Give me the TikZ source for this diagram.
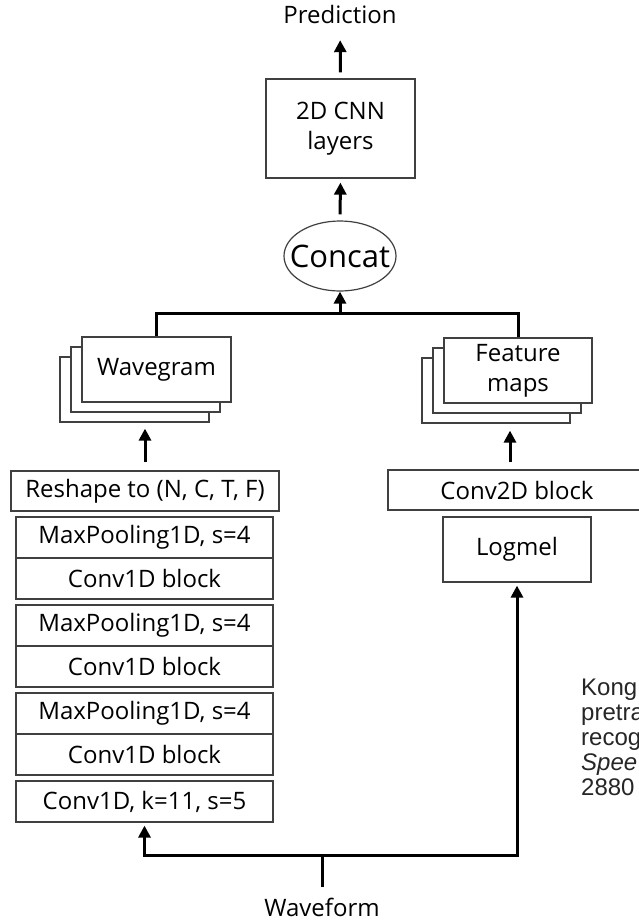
\documentclass[tikz,border=0pt]{standalone}
\usepackage{fontspec}
\setmainfont{Open Sans}
\newfontfamily\citefont{Liberation Sans}
\usetikzlibrary{arrows.meta,shapes.geometric,shadows}
\tikzset{
  lbl/.style={font=\fontsize{24}{30}\selectfont, inner sep=0pt, text height=17pt, text depth=0pt},
  blk/.style={draw=black!75, line width=1.2pt, fill=white, inner sep=0pt, align=center, font=\fontsize{24}{30}\selectfont},
  stackbox/.style={blk, double copy shadow={shadow xshift=-11pt, shadow yshift=-10pt}},
  cellbox/.style={blk, minimum width=257pt, minimum height=41pt},
  conn/.style={line width=3pt, black},
  arr/.style={conn, -{Triangle[length=12pt,width=12pt]}},
  citetext/.style={anchor=base west, inner sep=0pt, font=\citefont\fontsize{24}{28}\selectfont, text=black!85},
}
\begin{document}
\begin{tikzpicture}[x=1pt,y=-1pt]
\fill[white] (0,0) rectangle (639,921);
\useasboundingbox (0,0) rectangle (639,921);

% top part
\node[lbl] (pred) at (340,15) {Prediction};
\node[blk, minimum width=149pt, minimum height=99pt] (cnn) at (340.5,128.5) {2D CNN\\layers};
\node[draw=black!75, line width=1.2pt, ellipse, minimum width=112pt, minimum height=70pt, inner sep=0pt] (concat) at (340,256) {\makebox[0pt]{\fontsize{31}{36}\selectfont Concat}};

% stacked feature boxes
\node[stackbox, minimum width=149pt, minimum height=65pt] (wave) at (156.5,369.5) {Wavegram};
\node[stackbox, minimum width=148pt, minimum height=65pt] (feat) at (518,370.5) {Feature\\maps};

% left branch
\node[blk, minimum width=268pt, minimum height=40pt] (reshape) at (145,491) {Reshape to (N, C, T, F)};
\node[cellbox] (mp1) at (144.5,537.5) {MaxPooling1D, s=4};
\node[cellbox] (cb1) at (144.5,578.5) {Conv1D block};
\node[cellbox] (mp2) at (144.5,625.5) {MaxPooling1D, s=4};
\node[cellbox] (cb2) at (144.5,666.5) {Conv1D block};
\node[cellbox] (mp3) at (144.5,713.5) {MaxPooling1D, s=4};
\node[cellbox] (cb3) at (144.5,754.5) {Conv1D block};
\node[cellbox] (k11) at (144.5,801.5) {Conv1D, k=11, s=5};

% right branch
\node[blk, minimum width=258pt, minimum height=40pt] (conv2d) at (517,490) {Conv2D block};
\node[blk, minimum width=148pt, minimum height=65pt] (logmel) at (517,549.5) {Logmel};

% input
\node[lbl] (wavef) at (322,908) {Waveform};

% connectors
\draw[arr, shorten <=6pt, shorten >=16.5pt] (cnn.north) -- (pred.south);
\draw[arr, shorten <=6pt, shorten >=4pt] (concat.north) -- (cnn.south);
\coordinate (join) at (340,313);
\draw[conn] (wave.north) |- (join) -| (feat.north);
\draw[arr] (join) -- (concat.south);
\draw[arr, shorten <=8pt, shorten >=26pt] (reshape.north) -- (reshape.north |- wave.south);
\draw[arr, shorten <=7pt, shorten >=27pt] ([xshift=-7pt]conv2d.north) -- ([xshift=-7pt]conv2d.north |- feat.south);
\coordinate (split) at (322,855);
\draw[conn, shorten <=12pt] (wavef.north) -- (split);
\draw[arr, shorten >=3pt] (split) -| (k11.south);
\draw[arr, shorten >=3pt] (split) -| (logmel.south);

% citation (cut at the right edge)
\node[citetext] (c1) at (581,695) {Kong};
\node[citetext] (c2) at (581,720) {pretra};
\node[citetext] (c3) at (581,745) {recog};
\node[citetext, font=\citefont\itshape\fontsize{24}{28}\selectfont] (c4) at (581,770) {Spee};
\node[citetext] (c5) at (581,795) {2880};
\end{tikzpicture}
\end{document}
